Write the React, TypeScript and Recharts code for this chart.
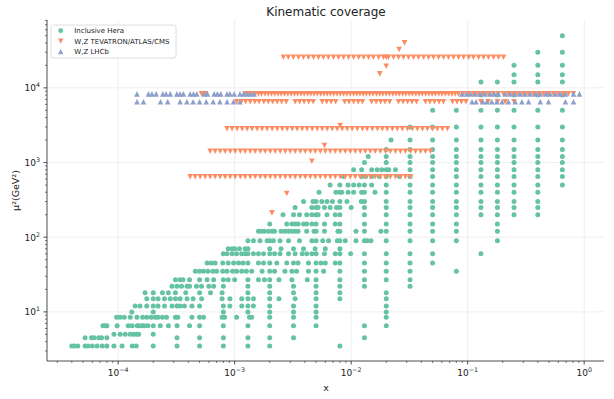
import { ScatterChart, Scatter, XAxis, YAxis, CartesianGrid } from "recharts";

// Inclusive HERA: one row of x values per Q² bin
const heraQ2 = [3.5, 4.5, 5, 6.5, 8.5, 10, 12, 15, 18, 22, 27, 35, 45, 60, 70, 90, 120, 150, 200, 250, 300, 400, 500, 650, 800, 1000, 1200, 1500, 2000, 3000, 5000, 8000, 12000, 15000, 20000, 30000, 50000];
const heraX: number[][] = [
  [4.0e-5, 4.2e-5, 4.5e-5, 5.2e-5, 5.5e-5, 6.0e-5, 6.6e-5, 7.3e-5, 8.0e-5, 9.2e-5, 1.08e-4, 1.32e-4, 1.43e-4, 2.0e-4, 3.2e-4, 5.0e-4, 8.0e-4, 1.3e-3, 2.0e-3, 8.0e-3],
  [5.2e-5, 5.9e-5, 6.2e-5, 6.8e-5, 7.2e-5, 8.0e-5, 3.2e-4, 5.0e-4, 8.0e-4, 1.3e-3, 2.0e-3, 3.2e-3, 1.3e-2],
  [9.2e-5, 1.04e-4, 1.15e-4, 1.27e-4, 1.35e-4, 1.43e-4, 1.5e-4, 2.0e-4],
  [7.4e-5, 7.7e-5, 8.0e-5, 9.8e-5, 1.22e-4, 1.32e-4, 1.46e-4, 1.5e-4, 1.6e-4, 1.67e-4, 1.8e-4, 2.0e-4, 2.3e-4, 2.7e-4, 3.2e-4, 4.1e-4, 5.0e-4, 8.0e-4, 1.3e-3, 2.0e-3, 3.2e-3, 5.0e-3, 1.3e-2, 2.0e-2],
  [9.7e-5, 1.04e-4, 1.13e-4, 1.27e-4, 1.45e-4, 1.62e-4, 1.76e-4, 1.92e-4, 2.08e-4, 2.2e-4, 2.4e-4, 2.6e-4, 3.1e-4, 3.25e-4, 4.3e-4, 5.0e-4, 5.4e-4, 7.8e-4, 8.2e-4, 1.04e-3, 1.34e-3, 1.4e-3, 2.0e-3, 3.2e-3, 5.0e-3, 2.0e-2],
  [1.31e-4, 2.0e-4, 8.0e-4, 1.3e-3, 2.0e-3, 3.2e-3, 5.0e-3, 2.0e-2],
  [1.4e-4, 1.54e-4, 1.76e-4, 2.0e-4, 2.2e-4, 2.5e-4, 2.9e-4, 3.2e-4, 3.4e-4, 3.7e-4, 4.3e-4, 5.0e-4, 8.0e-4, 9.1e-4, 1.15e-3, 1.3e-3, 1.45e-3, 2.0e-3, 3.2e-3, 5.0e-3, 2.0e-2],
  [1.76e-4, 2.0e-4, 2.2e-4, 2.5e-4, 2.8e-4, 3.1e-4, 3.4e-4, 3.9e-4, 4.4e-4, 5.2e-4, 7.8e-4, 9.1e-4, 1.15e-3, 1.3e-3, 1.45e-3, 2.0e-3, 2.4e-3, 3.3e-3, 5.0e-3, 8.0e-3, 2.0e-2],
  [1.7e-4, 2.0e-4, 2.4e-4, 2.7e-4, 3.1e-4, 3.8e-4, 5.0e-4, 6.2e-4, 7.8e-4, 1.3e-3, 2.0e-3, 3.2e-3, 5.0e-3, 8.0e-3, 2.0e-2],
  [2.9e-4, 3.2e-4, 3.5e-4, 3.9e-4, 4.1e-4, 4.7e-4, 5.2e-4, 6.0e-4, 6.6e-4, 8.0e-4, 1.3e-3, 2.0e-3, 3.2e-3, 5.0e-3, 8.0e-3, 1.3e-2, 3.2e-2],
  [3.1e-4, 3.4e-4, 3.6e-4, 4.1e-4, 5.0e-4, 5.8e-4, 6.6e-4, 8.0e-4, 8.8e-4, 1.0e-3, 1.3e-3, 1.6e-3, 1.8e-3, 2.0e-3, 2.4e-3, 3.1e-3, 4.2e-3, 5.0e-3, 8.0e-3, 1.3e-2, 2.0e-2, 3.2e-2],
  [4.6e-4, 5.0e-4, 5.4e-4, 5.9e-4, 6.5e-4, 7.0e-4, 7.9e-4, 8.6e-4, 9.6e-4, 1.04e-3, 1.15e-3, 1.26e-3, 1.4e-3, 1.72e-3, 2.0e-3, 2.2e-3, 2.7e-3, 3.1e-3, 3.4e-3, 4.3e-3, 5.0e-3, 5.8e-3, 8.0e-3, 1.3e-2, 2.0e-2, 3.2e-2, 8.0e-2],
  [5.8e-4, 6.3e-4, 6.8e-4, 7.9e-4, 8.8e-4, 9.8e-4, 1.08e-3, 1.18e-3, 1.3e-3, 1.6e-3, 1.77e-3, 2.0e-3, 2.3e-3, 2.8e-3, 3.2e-3, 3.5e-3, 4.3e-3, 5.0e-3, 5.5e-3, 6.0e-3, 7.3e-3, 8.0e-3, 1.3e-2, 2.0e-2, 3.2e-2, 5.0e-2],
  [8.0e-4, 8.6e-4, 9.5e-4, 1.04e-3, 1.15e-3, 1.23e-3, 1.3e-3, 1.45e-3, 1.6e-3, 1.77e-3, 2.0e-3, 2.2e-3, 2.45e-3, 2.9e-3, 3.3e-3, 3.8e-3, 4.15e-3, 4.6e-3, 5.0e-3, 5.9e-3, 7.3e-3, 8.0e-3, 9.9e-3, 1.3e-2, 2.0e-2, 3.2e-2, 5.0e-2, 0.13],
  [8.8e-4, 9.5e-4, 1.0e-3, 1.1e-3, 1.23e-3, 1.3e-3, 2.0e-3, 2.5e-3, 3.2e-3, 3.9e-3, 4.9e-3, 6.0e-3, 8.0e-3],
  [1.3e-3, 1.45e-3, 1.65e-3, 1.9e-3, 2.0e-3, 2.15e-3, 2.45e-3, 2.9e-3, 3.6e-3, 4.6e-3, 5.0e-3, 5.7e-3, 6.4e-3, 7.6e-3, 8.0e-3, 8.9e-3, 1.1e-2, 1.3e-2, 1.37e-2, 1.48e-2, 2.0e-2, 3.2e-2, 5.0e-2, 8.0e-2, 0.18],
  [1.6e-3, 1.7e-3, 1.8e-3, 1.95e-3, 2.1e-3, 2.2e-3, 2.5e-3, 2.7e-3, 2.9e-3, 3.1e-3, 3.3e-3, 3.5e-3, 4.15e-3, 4.8e-3, 5.0e-3, 5.9e-3, 7.7e-3, 8.0e-3, 1.1e-2, 1.3e-2, 1.8e-2, 2.0e-2, 3.2e-2, 5.0e-2, 8.0e-2, 0.18],
  [2.0e-3, 2.8e-3, 3.1e-3, 3.3e-3, 3.5e-3, 3.9e-3, 4.15e-3, 4.6e-3, 5.0e-3, 5.9e-3, 7.3e-3, 8.0e-3, 1.3e-2, 2.0e-2, 3.2e-2, 5.0e-2, 8.0e-2, 0.18],
  [2.6e-3, 3.2e-3, 3.6e-3, 4.15e-3, 4.6e-3, 5.0e-3, 5.2e-3, 6.2e-3, 7.3e-3, 8.0e-3, 1.3e-2, 2.0e-2, 3.2e-2, 5.0e-2, 8.0e-2, 0.13, 0.18, 0.25, 0.4],
  [3.3e-3, 4.6e-3, 5.0e-3, 5.2e-3, 5.9e-3, 6.6e-3, 7.5e-3, 8.0e-3, 1.0e-2, 1.3e-2, 2.0e-2, 3.2e-2, 5.0e-2, 8.0e-2, 0.13, 0.18, 0.25, 0.4],
  [3.9e-3, 4.7e-3, 5.0e-3, 5.6e-3, 6.2e-3, 6.9e-3, 8.0e-3, 9.2e-3, 1.22e-2, 1.3e-2, 2.0e-2, 3.2e-2, 5.0e-2, 8.0e-2, 0.13, 0.18, 0.25, 0.4],
  [5.3e-3, 7.4e-3, 8.0e-3, 8.3e-3, 9.4e-3, 1.05e-2, 1.23e-2, 1.3e-2, 1.6e-2, 2.0e-2, 3.2e-2, 5.0e-2, 8.0e-2, 0.13, 0.18, 0.25, 0.4],
  [6.6e-3, 8.0e-3, 9.4e-3, 1.05e-2, 1.17e-2, 1.3e-2, 1.5e-2, 2.0e-2, 3.2e-2, 5.0e-2, 8.0e-2, 0.13, 0.18, 0.25, 0.4, 0.65],
  [8.6e-3, 1.23e-2, 1.33e-2, 1.5e-2, 1.75e-2, 2.0e-2, 2.6e-2, 3.2e-2, 5.0e-2, 8.0e-2, 0.13, 0.18, 0.25, 0.4, 0.65],
  [1.05e-2, 1.23e-2, 1.5e-2, 1.67e-2, 1.83e-2, 2.0e-2, 2.1e-2, 2.4e-2, 3.2e-2, 5.0e-2, 8.0e-2, 0.13, 0.18, 0.25, 0.4, 0.65],
  [1.3e-2, 2.0e-2, 3.2e-2, 5.0e-2, 8.0e-2, 0.13, 0.18, 0.25, 0.4, 0.65],
  [1.4e-2, 2.0e-2, 3.2e-2, 5.0e-2, 8.0e-2, 0.13, 0.18, 0.25, 0.4, 0.65],
  [2.0e-2, 3.2e-2, 5.0e-2, 8.0e-2, 0.13, 0.18, 0.25, 0.4, 0.65],
  [2.2e-2, 3.2e-2, 5.0e-2, 8.0e-2, 0.13, 0.18, 0.25, 0.4, 0.65],
  [3.2e-2, 5.0e-2, 8.0e-2, 0.13, 0.18, 0.25, 0.4, 0.65],
  [5.0e-2, 8.0e-2, 0.13, 0.18, 0.25, 0.4, 0.65],
  [0.13, 0.18, 0.25, 0.4, 0.65],
  [0.13, 0.18, 0.25, 0.4, 0.65],
  [0.25, 0.4, 0.65],
  [0.25, 0.4, 0.65],
  [0.4, 0.65],
  [0.65],
];

// W,Z TEVATRON/ATLAS/CMS: rows at fixed μ², plus isolated points
const tevQ2 = [25700, 8300, 6500, 2830, 1415, 645];
const tevX: number[][] = [
  [2.62e-3, 2.89e-3, 3.19e-3, 3.53e-3, 3.89e-3, 4.3e-3, 4.75e-3, 5.24e-3, 5.78e-3, 6.38e-3, 7.05e-3, 7.78e-3, 8.59e-3, 9.48e-3, 1.05e-2, 1.16e-2, 1.28e-2, 1.41e-2, 1.55e-2, 1.72e-2, 1.89e-2, 2.0e-2, 2.09e-2, 2.31e-2, 2.55e-2, 2.81e-2, 3.11e-2, 3.43e-2, 3.78e-2, 4.18e-2, 4.61e-2, 5.09e-2, 5.62e-2, 6.21e-2, 6.85e-2, 7.56e-2, 8.35e-2, 9.22e-2, 0.102, 0.112, 0.124, 0.137, 0.151, 0.167, 0.184, 0.203],
  [5.2e-4, 5.6e-4, 1.23e-3, 1.31e-3, 1.4e-3, 1.5e-3, 1.6e-3, 1.7e-3, 1.82e-3, 1.94e-3, 2.07e-3, 2.21e-3, 2.36e-3, 2.51e-3, 2.68e-3, 2.86e-3, 3.05e-3, 3.26e-3, 3.47e-3, 3.71e-3, 3.95e-3, 4.22e-3, 4.5e-3, 4.8e-3, 5.12e-3, 5.47e-3, 5.83e-3, 6.22e-3, 6.64e-3, 7.09e-3, 7.56e-3, 8.07e-3, 8.61e-3, 9.18e-3, 9.8e-3, 1.05e-2, 1.12e-2, 1.19e-2, 1.27e-2, 1.35e-2, 1.44e-2, 1.54e-2, 1.65e-2, 1.76e-2, 1.87e-2, 2.0e-2, 2.13e-2, 2.28e-2, 2.43e-2, 2.59e-2, 2.77e-2, 2.95e-2, 3.15e-2, 3.36e-2, 3.59e-2, 3.83e-2, 4.08e-2, 4.36e-2, 4.65e-2, 4.96e-2, 5.29e-2, 5.65e-2, 6.02e-2, 6.43e-2, 6.86e-2, 7.32e-2, 7.81e-2, 8.33e-2, 0.092, 0.101, 0.112, 0.123, 0.136, 0.15, 0.166, 0.183, 0.202, 0.223, 0.246, 0.272, 0.3, 0.331, 0.366, 0.404, 0.446, 0.492, 0.543, 0.6, 0.662, 0.731, 0.807],
  [1.04e-3, 1.14e-3, 1.24e-3, 1.36e-3, 1.49e-3, 1.62e-3, 1.78e-3, 1.94e-3, 2.12e-3, 2.32e-3, 2.53e-3, 2.77e-3, 3.31e-3, 3.61e-3, 3.95e-3, 4.32e-3, 4.72e-3, 5.64e-3, 6.16e-3, 6.73e-3, 7.36e-3, 8.79e-3, 9.61e-3, 1.05e-2, 1.15e-2, 1.25e-2, 1.5e-2, 1.64e-2, 1.79e-2, 1.95e-2, 2.14e-2, 2.55e-2, 2.79e-2, 3.05e-2, 3.33e-2, 3.64e-2, 4.35e-2, 4.75e-2, 5.19e-2, 5.68e-2, 6.2e-2, 7.41e-2, 8.1e-2, 8.85e-2, 9.67e-2, 0.13, 0.15, 0.18, 0.21, 0.25],
  [8.6e-4, 9.5e-4, 1.05e-3, 1.16e-3, 1.28e-3, 1.41e-3, 1.56e-3, 1.72e-3, 1.9e-3, 2.1e-3, 2.32e-3, 2.56e-3, 2.82e-3, 3.12e-3, 3.44e-3, 3.8e-3, 4.19e-3, 4.63e-3, 5.11e-3, 5.64e-3, 6.23e-3, 6.88e-3, 7.59e-3, 8.38e-3, 9.25e-3, 1.02e-2, 1.13e-2, 1.25e-2, 1.37e-2, 1.52e-2, 1.68e-2, 1.85e-2, 2.04e-2, 2.26e-2, 2.49e-2, 2.75e-2, 3.04e-2, 3.35e-2, 3.7e-2, 4.09e-2, 4.51e-2, 4.98e-2, 5.5e-2, 6.07e-2, 6.7e-2],
  [6.16e-4, 6.8e-4, 7.51e-4, 8.29e-4, 9.15e-4, 1.01e-3, 1.12e-3, 1.23e-3, 1.36e-3, 1.5e-3, 1.66e-3, 1.83e-3, 2.02e-3, 2.23e-3, 2.46e-3, 2.72e-3, 3.0e-3, 3.31e-3, 3.66e-3, 4.04e-3, 4.46e-3, 4.92e-3, 5.43e-3, 6.0e-3, 6.62e-3, 7.31e-3, 8.07e-3, 8.91e-3, 9.83e-3, 1.085e-2, 1.198e-2, 1.323e-2, 1.46e-2, 1.61e-2, 1.78e-2, 1.97e-2, 2.17e-2, 2.4e-2, 2.65e-2, 2.92e-2, 3.23e-2, 3.57e-2, 3.94e-2, 4.35e-2, 4.8e-2],
  [4.15e-4, 4.58e-4, 5.06e-4, 5.58e-4, 6.16e-4, 6.8e-4, 7.51e-4, 8.29e-4, 9.15e-4, 1.01e-3, 1.12e-3, 1.23e-3, 1.36e-3, 1.5e-3, 1.66e-3, 1.83e-3, 2.02e-3, 2.23e-3, 2.46e-3, 2.72e-3, 3.0e-3, 3.31e-3, 3.66e-3, 4.04e-3, 4.46e-3, 4.92e-3, 5.43e-3, 6.0e-3, 6.62e-3, 7.31e-3, 8.07e-3, 8.91e-3, 9.83e-3, 1.085e-2, 1.198e-2, 1.323e-2, 1.46e-2, 1.61e-2, 1.78e-2, 1.97e-2, 2.17e-2, 2.4e-2, 2.65e-2, 2.92e-2, 3.23e-2],
];
const tevSingleX = [2.87e-2, 2.58e-2, 2.0e-2, 1.76e-2, 8.05e-3, 5.9e-3, 4.6e-3, 2.8e-3, 2.09e-3];
const tevSingleQ2 = [40000, 32600, 19500, 15400, 3130, 1690, 1040, 385, 212];

// W,Z LHCb: Z row and W row
const lhcbQ2 = [8300, 6500];
const lhcbX: number[][] = [
  [1.45e-4, 1.82e-4, 1.95e-4, 2.12e-4, 2.42e-4, 2.58e-4, 2.8e-4, 3.19e-4, 3.4e-4, 3.63e-4, 4.15e-4, 4.43e-4, 4.73e-4, 5.47e-4, 5.84e-4, 6.67e-4, 7.1e-4, 7.6e-4, 8.6e-4, 9.1e-4, 9.9e-4, 1.11e-3, 1.19e-3, 1.27e-3, 1.36e-3, 1.47e-3, 8.9e-2, 9.8e-2, 0.106, 0.116, 0.128, 0.141, 0.156, 0.169, 0.184, 0.21, 0.232, 0.256, 0.283, 0.311, 0.344, 0.38, 0.42, 0.47, 0.51, 0.565, 0.62, 0.69, 0.81, 0.91],
  [1.45e-4, 1.65e-4, 2.31e-4, 2.66e-4, 3.4e-4, 3.89e-4, 4.4e-4, 5.0e-4, 5.7e-4, 6.54e-4, 7.45e-4, 8.6e-4, 9.77e-4, 1.11e-3, 0.109, 0.118, 0.135, 0.146, 0.161, 0.178, 0.197, 0.224, 0.256, 0.292, 0.333, 0.42, 0.494, 0.69, 0.81],
];

const xMajorTicks = [1e-4, 1e-3, 1e-2, 1e-1, 1];
const yMajorTicks = [10, 100, 1000, 10000];
const xDomain = [2.45e-5, 1.48];
const yDomain = [2.2, 8.1e4];

const GREEN = "#66c2a5";
const ORANGE = "#fc8d62";
const BLUE = "#8da0cb";
const FONT = "DejaVu Sans";

const rowsToPoints = (q2s: number[], xs: number[][]) =>
  q2s.flatMap((q2, i) => xs[i].map((x) => ({ x, y: q2 })));

const heraData = rowsToPoints(heraQ2, heraX);
const tevData = [
  ...rowsToPoints(tevQ2, tevX),
  ...tevSingleX.map((x, i) => ({ x, y: tevSingleQ2[i] })),
];
const lhcbData = rowsToPoints(lhcbQ2, lhcbX);

// major + minor (2..9) log ticks inside the domain
const logTicks = (majors: number[], domain: number[]) => {
  const out: number[] = [];
  const lo = Math.floor(Math.log10(domain[0]));
  const hi = Math.ceil(Math.log10(domain[1]));
  for (let e = lo; e <= hi; e++) {
    for (let m = 1; m < 10; m++) {
      const v = m * Math.pow(10, e);
      if (v >= domain[0] && v <= domain[1]) out.push(v);
    }
  }
  return Array.from(new Set([...out, ...majors])).sort((a, b) => a - b);
};

const isMajor = (v: number) => Math.abs(Math.log10(v) - Math.round(Math.log10(v))) < 1e-6;
const expLabel = (v: number) => {
  const e = Math.round(Math.log10(v));
  return e < 0 ? `\u2212${-e}` : `${e}`;
};

function XTick(props: any) {
  const { x, y, payload } = props;
  const major = isMajor(payload.value);
  return (
    <g>
      <line x1={x} x2={x} y1={y} y2={y + (major ? 3.5 : 2)} stroke="#222" strokeWidth={major ? 0.8 : 0.6} />
      {major && (
        <text x={x} y={y + 15} textAnchor="middle" fontSize={9} fill="#222" fontFamily={FONT}>
          <tspan>10</tspan>
          <tspan dy={-4} fontSize={6.3}>{expLabel(payload.value)}</tspan>
        </text>
      )}
    </g>
  );
}

function YTick(props: any) {
  const { x, y, payload } = props;
  const major = isMajor(payload.value);
  return (
    <g>
      <line x1={x} x2={x - (major ? 3.5 : 2)} y1={y} y2={y} stroke="#222" strokeWidth={major ? 0.8 : 0.6} />
      {major && (
        <text x={x - 7} y={y + 3.3} textAnchor="end" fontSize={9} fill="#222" fontFamily={FONT}>
          <tspan>10</tspan>
          <tspan dy={-4} fontSize={6.3}>{expLabel(payload.value)}</tspan>
        </text>
      )}
    </g>
  );
}

const Dot = (color: string) => (p: any) => <circle cx={p.cx} cy={p.cy} r={2.5} fill={color} />;
const Tri = (color: string, down: boolean) => (p: any) => {
  const a = 2.8;
  const { cx, cy } = p;
  const pts = down
    ? `${cx - a},${cy - a} ${cx + a},${cy - a} ${cx},${cy + a}`
    : `${cx},${cy - a} ${cx - a},${cy + a} ${cx + a},${cy + a}`;
  return <polygon points={pts} fill={color} />;
};

const legendItems = [
  { label: "Inclusive Hera", color: GREEN, kind: "dot" },
  { label: "W,Z TEVATRON/ATLAS/CMS", color: ORANGE, kind: "down" },
  { label: "W,Z LHCb", color: BLUE, kind: "up" },
];

export default function App() {
  return (
    <div style={{ position: "absolute", left: 0, top: 0, width: 614, height: 399, background: "#fff" }}>
      <ScatterChart width={614} height={399} margin={{ top: 20, right: 10, bottom: 0, left: 0 }}>
        <CartesianGrid
          stroke="#ebebeb"
          strokeWidth={0.8}
          horizontalValues={yMajorTicks}
          verticalValues={xMajorTicks}
        />
        <XAxis
          type="number"
          dataKey="x"
          scale="log"
          domain={xDomain}
          allowDataOverflow
          ticks={logTicks(xMajorTicks, xDomain)}
          interval={0}
          tick={<XTick />}
          tickLine={false}
          tickSize={0}
          tickMargin={0}
          height={38}
          axisLine={{ stroke: "#222", strokeWidth: 0.8 }}
        />
        <YAxis
          type="number"
          dataKey="y"
          scale="log"
          domain={yDomain}
          allowDataOverflow
          ticks={logTicks(yMajorTicks, yDomain)}
          interval={0}
          tick={<YTick />}
          tickLine={false}
          tickSize={0}
          tickMargin={0}
          width={47}
          axisLine={{ stroke: "#222", strokeWidth: 0.8 }}
        />
        <Scatter name="Inclusive Hera" data={heraData} shape={Dot(GREEN)} isAnimationActive={false} />
        <Scatter name="W,Z TEVATRON/ATLAS/CMS" data={tevData} shape={Tri(ORANGE, true)} isAnimationActive={false} />
        <Scatter name="W,Z LHCb" data={lhcbData} shape={Tri(BLUE, false)} isAnimationActive={false} />
      </ScatterChart>
      <svg
        width={614}
        height={399}
        style={{ position: "absolute", left: 0, top: 0, pointerEvents: "none" }}
        fontFamily={FONT}
      >
        <text x={326} y={16} textAnchor="middle" fontSize={12} fill="#222">Kinematic coverage</text>
        <text x={326} y={391} textAnchor="middle" fontSize={9.5} fill="#222">x</text>
        <text transform="translate(18.5,190.5) rotate(-90)" textAnchor="middle" fontSize={9.5} fill="#222">
          μ²(GeV²)
        </text>
        <rect x={51} y={25} width={125} height={33} rx={2.5} fill="rgba(255,255,255,0.85)" stroke="#d5d5d5" strokeWidth={0.8} />
        {legendItems.map((it, i) => {
          const cy = 30.7 + i * 10.5;
          const cx = 60.7;
          const a = 2.6;
          return (
            <g key={it.label}>
              {it.kind === "dot" && <circle cx={cx} cy={cy} r={2.4} fill={it.color} />}
              {it.kind === "down" && (
                <polygon points={`${cx - a},${cy - a} ${cx + a},${cy - a} ${cx},${cy + a}`} fill={it.color} />
              )}
              {it.kind === "up" && (
                <polygon points={`${cx},${cy - a} ${cx - a},${cy + a} ${cx + a},${cy + a}`} fill={it.color} />
              )}
              <text x={74.3} y={cy + 2.5} fontSize={7} fill="#222">{it.label}</text>
            </g>
          );
        })}
      </svg>
    </div>
  );
}
